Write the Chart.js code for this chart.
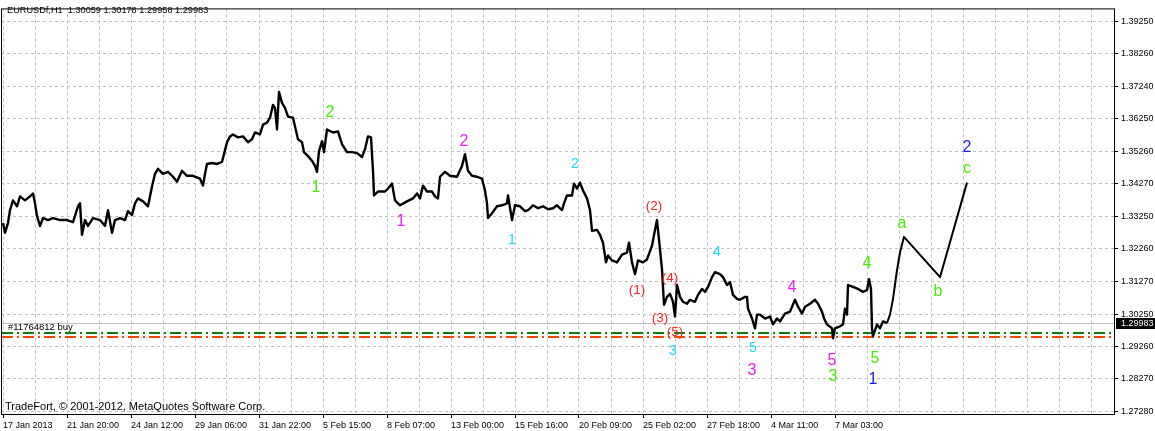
<!DOCTYPE html>
<html>
<head>
<meta charset="utf-8">
<title>EURUSDf,H1</title>
<script src="https://cdn.jsdelivr.net/npm/chart.js@4.4.1/dist/chart.umd.min.js"></script>
<style>
    html, body { margin: 0; padding: 0; background: #fff; }
    canvas { display: block; }
</style>
</head>
<body>
<canvas id="chart" width="1155" height="431"></canvas>
<script>
// hourly closes, hour 0 = 17 Jan 2013 00:00 (one bar per hour)
var hours = [
    0, 2, 5, 7, 10, 14, 17, 22, 27, 30,
    32, 34, 37, 40, 45, 50, 57, 64, 70, 75,
    77, 79, 82, 85, 90, 97, 102, 105, 109, 112,
    117, 122, 125, 129, 132, 135, 140, 145, 149, 152,
    155, 160, 165, 170, 174, 179, 184, 190, 197, 200,
    202, 204, 209, 214, 219, 221, 224, 227, 230, 235,
    240, 245, 249, 252, 257, 260, 264, 267, 270, 272,
    274, 276, 279, 282, 285, 290, 292, 295, 299, 301,
    305, 309, 312, 314, 316, 319, 321, 324, 330, 335,
    339, 344, 349, 354, 359, 362, 365, 368, 370, 371,
    375, 382, 385, 389, 392, 397, 404, 410, 414, 417,
    420, 424, 429, 432, 435, 437, 442, 447, 454, 459,
    462, 465, 469, 474, 479, 482, 484, 485, 489, 494,
    499, 504, 505, 509, 512, 517, 522, 525, 530, 535,
    540, 545, 550, 554, 559, 561, 564, 569, 571, 574,
    577, 580, 584, 587, 589, 594, 597, 600, 603, 605,
    609, 614, 619, 624, 626, 629, 632, 635, 640, 644,
    649, 652, 654, 656, 659, 661, 664, 667, 670, 672,
    674, 677, 680, 684, 687, 692, 695, 699, 702, 705,
    709, 712, 717, 720, 724, 727, 730, 734, 737, 742,
    744, 745, 749, 752, 754, 757, 762, 767, 770, 774,
    777, 782, 787, 792, 795, 799, 802, 807, 812, 815,
    819, 821, 824, 829, 830, 832, 837, 840, 842, 844,
    845, 850, 855, 860, 864, 866, 868, 869, 870, 874,
    877, 880, 884
];
var closes = [
    1.33053, 1.32751, 1.33053, 1.33446, 1.33749, 1.33567, 1.33870, 1.33749, 1.33870, 1.33960,
    1.33658, 1.33265, 1.32963, 1.33205, 1.33144, 1.33205, 1.33144, 1.33144, 1.33084, 1.33567,
    1.33658, 1.32691, 1.33144, 1.32963, 1.33205, 1.33144, 1.32963, 1.33446, 1.32751, 1.33144,
    1.33205, 1.33144, 1.33416, 1.33295, 1.33658, 1.33809, 1.33718, 1.33567, 1.34172, 1.34565,
    1.34716, 1.34565, 1.34625, 1.34474, 1.34323, 1.34655, 1.34504, 1.34504, 1.34414, 1.34202,
    1.34565, 1.34867, 1.34897, 1.34867, 1.34927, 1.35169, 1.35532, 1.35713, 1.35774, 1.35683,
    1.35713, 1.35532, 1.35623, 1.35834, 1.35774, 1.36076, 1.36137, 1.36288, 1.36681, 1.36590,
    1.35925, 1.37074, 1.36741, 1.36590, 1.36318, 1.36288, 1.36016, 1.35623, 1.35532, 1.35230,
    1.35109, 1.34958, 1.34807, 1.34625, 1.35260, 1.35562, 1.35230, 1.35925, 1.35834, 1.35865,
    1.35472, 1.35230, 1.35230, 1.35200, 1.35079, 1.35320, 1.35713, 1.35683, 1.34655, 1.33900,
    1.34021, 1.34021, 1.34111, 1.34263, 1.33749, 1.33598, 1.33718, 1.33809, 1.33960, 1.33809,
    1.34202, 1.34021, 1.34021, 1.33870, 1.33809, 1.34474, 1.34625, 1.34504, 1.34474, 1.34807,
    1.35169, 1.34655, 1.34504, 1.34474, 1.34414, 1.34051, 1.33658, 1.33205, 1.33356, 1.33567,
    1.33598, 1.33658, 1.33900, 1.33144, 1.33598, 1.33567, 1.33416, 1.33446, 1.33598, 1.33507,
    1.33567, 1.33477, 1.33507, 1.33598, 1.33446, 1.33658, 1.33900, 1.33900, 1.34263, 1.34111,
    1.34293, 1.34051, 1.33809, 1.33446, 1.32812, 1.32842, 1.32691, 1.32449, 1.31844, 1.32056,
    1.31905, 1.31844, 1.32086, 1.32147, 1.32449, 1.31844, 1.31482, 1.31905, 1.31844, 1.31935,
    1.32358, 1.32842, 1.33144, 1.32540, 1.31633, 1.30545, 1.30786, 1.30877, 1.30635, 1.30182,
    1.31149, 1.30786, 1.30635, 1.30575, 1.30696, 1.30635, 1.30847, 1.31028, 1.30938, 1.31089,
    1.31391, 1.31542, 1.31482, 1.31391, 1.31149, 1.31240, 1.30847, 1.30726, 1.30696, 1.30786,
    1.30786, 1.30424, 1.30121, 1.29819, 1.30242, 1.30242, 1.30121, 1.30182, 1.29940, 1.30121,
    1.30031, 1.30273, 1.30333, 1.30696, 1.30484, 1.30273, 1.30484, 1.30575, 1.30696, 1.30575,
    1.30333, 1.30121, 1.29940, 1.29819, 1.29517, 1.29819, 1.29880, 1.29940, 1.30424, 1.30242,
    1.31149, 1.31089, 1.31028, 1.30938, 1.30998, 1.31331, 1.31028, 1.29819, 1.29577, 1.29940,
    1.29819, 1.30031, 1.29983
];
// hand drawn a-b-c projection
var projHours = [884, 887, 890, 894, 897, 901, 937, 964];
var projPrices = [1.29983, 1.30242, 1.30726, 1.31603, 1.32147, 1.32630, 1.31391, 1.34293];

// one time label every 64 bars
var timeLabels = ['17 Jan 2013', '21 Jan 20:00', '24 Jan 12:00', '29 Jan 06:00', '31 Jan 22:00',
    '5 Feb 15:00', '8 Feb 07:00', '13 Feb 00:00', '15 Feb 16:00', '20 Feb 09:00',
    '25 Feb 02:00', '27 Feb 18:00', '4 Mar 11:00', '7 Mar 03:00'];
var priceTicks = [1.27280, 1.28270, 1.29260, 1.30250, 1.31270, 1.32260, 1.33250,
    1.34270, 1.35260, 1.36250, 1.37240, 1.38260, 1.39250];

var quote = ['1.30059', '1.30178', '1.29958', '1.29983'];
var bid = 1.29983;
var orderOpen = 1.29683;
var orderStop = 1.29547;

// wave counts: text, bar, price
var minorText = ['1', '2', '3', '4', '5', 'a', 'b', 'c'];
var minorHour = [313, 327, 830, 864, 872, 899, 935, 964];
var minorPrice = [1.34142, 1.36439, 1.28338, 1.31814, 1.28882, 1.33023, 1.30938, 1.34716];
var magText = ['1', '2', '3', '4', '5'];
var magHour = [398, 461, 749, 789, 829];
var magPrice = [1.33084, 1.35562, 1.28519, 1.31058, 1.28822];
var cyanText = ['1', '2', '3', '4', '5'];
var cyanHour = [509, 572, 670, 714, 750];
var cyanPrice = [1.32540, 1.34867, 1.29124, 1.32147, 1.29215];
var redText = ['(1)', '(2)', '(3)', '(4)', '(5)'];
var redHour = [634, 651, 657, 667, 672];
var redPrice = [1.30998, 1.33567, 1.30121, 1.31361, 1.29698];
var blueText = ['1', '2'];
var blueHour = [870, 964];
var bluePrice = [1.28247, 1.35381];

var waves = [
    {text: minorText, hour: minorHour, price: minorPrice, color: '#48ee00', size: 16},
    {text: magText, hour: magHour, price: magPrice, color: '#f020f0', size: 16},
    {text: cyanText, hour: cyanHour, price: cyanPrice, color: '#10e0f8', size: 14},
    {text: redText, hour: redHour, price: redPrice, color: '#ff2222', size: 13.5},
    {text: blueText, hour: blueHour, price: bluePrice, color: '#1a1aff', size: 16}
];

var FONT = '"Liberation Sans", Arial, sans-serif';

function hline(ctx, area, py, color, dash, width) {
    var y = width % 2 ? Math.round(py) + 0.5 : Math.round(py);
    ctx.save();
    ctx.strokeStyle = color;
    ctx.lineWidth = width;
    ctx.setLineDash(dash);
    ctx.beginPath();
    ctx.moveTo(area.left + 1, y);
    ctx.lineTo(area.right, y);
    ctx.stroke();
    ctx.restore();
}

var overlay = {
    id: 'overlay',
    beforeDatasetsDraw: function (chart) {
        var ctx = chart.ctx, a = chart.chartArea, ys = chart.scales.y;
        hline(ctx, a, ys.getPixelForValue(bid), '#c0c0c0', [], 1);
        hline(ctx, a, ys.getPixelForValue(orderOpen), '#0a800a', [11, 4, 2, 4], 2);
        hline(ctx, a, ys.getPixelForValue(orderStop), '#ff4500', [11, 4, 2, 4], 2);
        ctx.save();
        ctx.font = '9.5px ' + FONT;
        ctx.fillStyle = '#000';
        ctx.textBaseline = 'alphabetic';
        ctx.fillText('#11764812 buy', a.left + 7, ys.getPixelForValue(orderOpen) - 3);
        ctx.restore();
    },
    afterDraw: function (chart) {
        var ctx = chart.ctx, a = chart.chartArea;
        var xs = chart.scales.x, ys = chart.scales.y;
        ctx.save();
        // wave labels
        ctx.textAlign = 'center';
        ctx.textBaseline = 'middle';
        waves.forEach(function (w) {
            ctx.font = w.size + 'px ' + FONT;
            ctx.fillStyle = w.color;
            w.text.forEach(function (t, i) {
                ctx.fillText(t, xs.getPixelForValue(w.hour[i]), ys.getPixelForValue(w.price[i]));
            });
        });
        // header and copyright
        ctx.textAlign = 'left';
        ctx.textBaseline = 'alphabetic';
        ctx.fillStyle = '#000';
        ctx.font = '9.2px ' + FONT;
        ctx.fillText('EURUSDf,H1  ' + quote.join(' '), a.left + 6, 13);
        ctx.font = '11px ' + FONT;
        ctx.fillText('TradeFort, \u00a9 2001-2012, MetaQuotes Software Corp.', a.left + 4, 410);
        // frame
        ctx.strokeStyle = '#000';
        ctx.lineWidth = 1;
        ctx.strokeRect(a.left + 0.5, a.top + 0.5, a.right - a.left, a.bottom - a.top);
        // bid box on price axis
        var py = ys.getPixelForValue(bid);
        ctx.fillStyle = '#000';
        ctx.fillRect(a.right + 2, Math.round(py) - 5, 39, 11);
        ctx.fillStyle = '#fff';
        ctx.font = '9px ' + FONT;
        ctx.textBaseline = 'middle';
        ctx.fillText(bid.toFixed(5), a.right + 7, py + 0.5);
        ctx.restore();
    }
};

var closeData = hours.map(function (h, i) { return {x: h, y: closes[i]}; });
var projData = projHours.map(function (h, i) { return {x: h, y: projPrices[i]}; });

new Chart(document.getElementById('chart'), {
    type: 'line',
    data: {
        datasets: [{
            label: 'EURUSDf,H1',
            data: closeData,
            borderColor: '#000',
            borderWidth: 2.4,
            borderJoinStyle: 'round',
            pointRadius: 0,
            tension: 0
        }, {
            label: 'a-b-c',
            data: projData,
            borderColor: '#000',
            borderWidth: 2,
            borderJoinStyle: 'round',
            pointRadius: 0,
            tension: 0
        }]
    },
    options: {
        responsive: false,
        animation: false,
        devicePixelRatio: 1,
        layout: {padding: {left: 1, top: 2, right: 0, bottom: 0}},
        plugins: {legend: {display: false}, tooltip: {enabled: false}},
        scales: {
            x: {
                type: 'linear',
                min: -2,
                max: 1111,
                afterBuildTicks: function (s) {
                    var t = [];
                    for (var h = 0; h <= 1111; h += 32) t.push({value: h});
                    s.ticks = t;
                },
                afterFit: function (s) { s.height = 17; },
                grid: {
                    color: '#c0c0c0',
                    tickLength: 4,
                    tickColor: function (c) {
                        return (c.index % 2 === 0 && timeLabels[c.index / 2]) ? '#000' : 'rgba(0,0,0,0)';
                    }
                },
                border: {display: false, dash: [3, 3]},
                ticks: {
                    autoSkip: false,
                    maxRotation: 0,
                    minRotation: 0,
                    align: 'start',
                    padding: 2,
                    color: '#000',
                    font: {family: FONT, size: 9},
                    callback: function (v, i) {
                        return i % 2 === 0 ? (timeLabels[i / 2] || '') : '';
                    }
                }
            },
            y: {
                position: 'right',
                min: 1.271893,
                max: 1.396430,
                afterBuildTicks: function (s) {
                    s.ticks = priceTicks.map(function (v) { return {value: v}; });
                },
                afterFit: function (s) { s.width = 41; },
                grid: {color: '#c0c0c0', tickLength: 4, tickColor: '#000'},
                border: {display: false, dash: [3, 3]},
                ticks: {
                    padding: 3,
                    color: '#000',
                    font: {family: FONT, size: 9},
                    callback: function (v) { return v.toFixed(5); }
                }
            }
        }
    },
    plugins: [overlay]
});
</script>
</body>
</html>
